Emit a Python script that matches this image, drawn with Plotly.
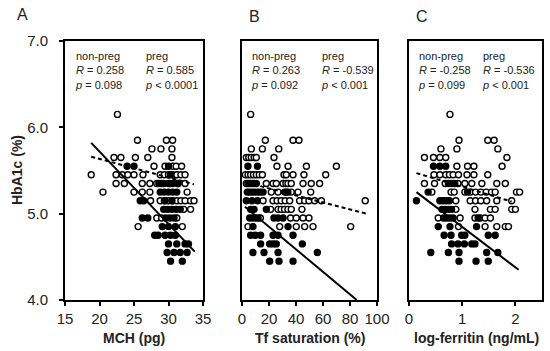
import plotly.graph_objects as go

# ---------------- data ----------------
# Panel A: MCH (pg) vs HbA1c (%)  -- rows keyed by HbA1c value
a_open_rows = {
    6.15: [22.6],
    5.85: [25.5, 29.7, 30.6],
    5.75: [27.6, 28.9, 30.5],
    5.65: [22.1, 23.1, 25.2, 27.0, 30.5],
    5.55: [27.9, 29.5, 30.6, 31.1, 31.9],
    5.45: [18.8, 22.4, 23.3, 24.1, 25.0, 26.3, 28.8, 29.4, 30.0, 30.6, 31.2, 31.8, 32.4],
    5.35: [22.4, 23.6, 26.2, 27.3, 28.3, 29.0, 30.2, 31.4, 32.4],
    5.25: [20.5, 25.0, 26.2, 27.3, 32.7],
    5.15: [27.4, 28.8, 29.4, 30.0, 30.6, 31.2, 31.8, 32.4, 33.2, 33.7],
    5.05: [32.2, 33.2],
    4.95: [28.3, 29.0, 31.2],
    4.85: [25.6, 32.0],
}
a_filled_rows = {
    5.55: [24.0, 25.0, 30.0],
    5.45: [30.3],
    5.35: [28.6, 29.3, 30.0, 30.6, 31.3],
    5.25: [28.8, 29.4, 30.0, 30.6, 31.2],
    5.15: [25.9, 26.4, 29.5, 30.5],
    5.05: [29.3, 29.9, 30.5, 31.1, 31.7],
    4.95: [26.2, 27.0, 29.6, 30.2, 30.8],
    4.85: [29.1, 30.0, 31.0],
    4.75: [28.0, 28.5, 29.5, 30.3, 31.0],
    4.65: [30.0, 31.2, 32.4, 32.9],
    4.55: [29.8, 30.8, 31.7, 32.7],
    4.45: [30.3, 32.0],
}
a_solid_x = [18.8, 33.8]
a_solid_y = [5.82, 4.56]
a_dash_x = [18.8, 33.7]
a_dash_y = [5.66, 5.34]

# Panel B: Tf saturation (%) vs HbA1c (%)
b_open_rows = {
    6.15: [6.4],
    5.85: [17.3, 37.8, 42.2],
    5.75: [6.9, 15.1, 27.2],
    5.65: [3.2, 5.0, 6.9, 9.0, 10.6, 23.7],
    5.55: [25.9, 34.1, 47.7, 69.9],
    5.45: [2.5, 4.5, 6.4, 8.5, 10.6, 12.8, 15.1, 31.1, 32.8, 37.8, 45.9, 62.0],
    5.35: [3.2, 18.0, 23.0, 25.4, 30.4, 32.5, 34.1, 36.5, 45.2, 51.3, 57.5],
    5.25: [21.7, 26.7, 32.8, 36.5, 41.5, 50.9],
    5.15: [15.6, 23.0, 26.0, 29.0, 32.0, 35.3, 42.7, 46.4, 49.6, 53.8, 58.8, 91.3],
    5.05: [21.2, 26.7, 29.0, 31.5, 34.0, 36.5, 44.4],
    4.95: [13.6, 36.0, 40.2, 45.2, 49.6],
    4.85: [4.4, 27.9, 40.2, 46.4, 52.6, 80.5],
}
b_filled_rows = {
    5.55: [4.4, 11.4],
    5.35: [4.4, 6.0, 7.5, 9.0, 10.6],
    5.25: [3.9, 5.5, 7.5, 9.5, 11.5, 13.5, 15.6, 31.6, 34.0],
    5.15: [3.2, 7.4, 11.4],
    5.05: [6.4, 8.9, 18.0],
    4.95: [5.7, 7.8, 9.9, 11.9, 23.7, 26.7, 30.4],
    4.85: [8.1, 34.1],
    4.75: [6.4, 9.9, 13.8, 23.0, 26.7, 37.8],
    4.65: [13.8, 20.5, 23.0, 25.4, 44.7],
    4.55: [8.1, 16.3, 26.7, 55.8],
    4.45: [20.5, 27.4, 37.8],
}
b_solid_x = [2.2, 85.0]
b_solid_y = [5.08, 4.0]
b_dash_x = [3.5, 92.0]
b_dash_y = [5.36, 5.00]

# Panel C: log-ferritin (ng/mL) vs HbA1c (%)
c_open_rows = {
    6.15: [0.77],
    5.85: [0.94, 1.48, 1.60],
    5.75: [0.60, 0.90, 1.67],
    5.65: [0.29, 0.46, 0.58, 0.69, 1.84],
    5.55: [0.90, 1.10, 1.22, 1.75],
    5.45: [0.47, 0.58, 0.69, 0.76, 0.83, 0.93, 1.09, 1.22, 1.48],
    5.35: [0.29, 0.48, 0.68, 0.92, 1.05, 1.18, 1.37, 1.65, 1.81],
    5.25: [0.43, 0.79, 0.85, 1.05, 1.15, 1.25, 1.35, 1.45, 1.55, 1.62, 2.02, 2.08],
    5.15: [0.70, 0.88, 1.15, 1.25, 1.35, 1.46, 1.65, 1.93],
    5.05: [0.88, 1.24, 1.53, 1.62, 1.93, 2.00],
    4.95: [0.55, 0.96, 1.24, 1.34, 1.43, 1.53],
    4.85: [0.93, 1.43, 1.65, 1.81, 1.87],
}
c_filled_rows = {
    5.55: [0.46, 0.58, 0.69],
    5.35: [0.74, 0.80, 0.86],
    5.25: [0.36, 1.10],
    5.15: [0.14, 0.58, 0.64, 0.76],
    5.05: [0.62, 0.68, 0.74, 0.80],
    4.95: [0.65, 0.71, 0.77, 0.83, 1.30],
    4.85: [0.55, 0.77, 1.27],
    4.75: [0.66, 0.79, 0.99, 1.05, 1.49, 1.62],
    4.65: [0.80, 0.92, 1.04, 1.18, 1.24],
    4.55: [0.41, 0.74, 0.94, 1.46, 1.67],
    4.45: [0.94, 1.26, 1.49],
}
c_solid_x = [0.14, 2.06]
c_solid_y = [5.25, 4.35]
c_dash_x = [0.14, 1.93]
c_dash_y = [5.47, 5.14]

panel_letters = ["A", "B", "C"]
x_titles = ["MCH (pg)", "Tf saturation (%)", "log-ferritin (ng/mL)"]
y_title = "HbA1c (%)"
stats_nonpreg = [("0.258", "= 0.098"), ("0.263", "= 0.092"), ("-0.258", "= 0.099")]
stats_preg = [("0.585", "< 0.0001"), ("-0.539", "< 0.001"), ("-0.536", "< 0.001")]
y_ticks = [4.0, 5.0, 6.0, 7.0]

# ---------------- figure ----------------
W, H = 550, 351
FONT = "Arial, 'Liberation Sans', sans-serif"


def flatten(rows):
    xs, ys = [], []
    for yv, xl in rows.items():
        for xv in xl:
            xs.append(xv)
            ys.append(yv)
    return xs, ys


panels = [
    (a_open_rows, a_filled_rows, a_solid_x, a_solid_y, a_dash_x, a_dash_y),
    (b_open_rows, b_filled_rows, b_solid_x, b_solid_y, b_dash_x, b_dash_y),
    (c_open_rows, c_filled_rows, c_solid_x, c_solid_y, c_dash_x, c_dash_y),
]

fig = go.Figure()
for i, (orow, frow, sx, sy, dx, dy) in enumerate(panels):
    xa = "x" if i == 0 else f"x{i+1}"
    ya = "y" if i == 0 else f"y{i+1}"
    ox, oy = flatten(orow)
    fx, fy = flatten(frow)
    fig.add_trace(go.Scatter(x=ox, y=oy, mode="markers", xaxis=xa, yaxis=ya,
                             marker=dict(symbol="circle", size=6, color="white",
                                         line=dict(color="black", width=1.4))))
    fig.add_trace(go.Scatter(x=fx, y=fy, mode="markers", xaxis=xa, yaxis=ya,
                             marker=dict(symbol="circle", size=6, color="black",
                                         line=dict(color="black", width=1.4))))
    fig.add_trace(go.Scatter(x=sx, y=sy, mode="lines", xaxis=xa, yaxis=ya,
                             line=dict(color="black", width=2)))
    fig.add_trace(go.Scatter(x=dx, y=dy, mode="lines", xaxis=xa, yaxis=ya,
                             line=dict(color="black", width=2, dash="4px,3px")))

x_dom_px = [(65, 203), (242, 377), (409, 542)]
y_dom = [(H - 300) / H, (H - 41) / H]
x_ranges = [[15, 35], [0, 100], [0, 2.5]]
x_dticks = [5, 20, 1]

axis_common = dict(showline=True, linewidth=2, linecolor="black", mirror=True,
                   showgrid=False, zeroline=False, automargin=False,
                   tickfont=dict(family=FONT, size=15, color="#222"))
layout = dict(width=W, height=H, autosize=False,
              margin=dict(l=0, r=0, t=0, b=0, pad=0, autoexpand=False),
              paper_bgcolor="white", plot_bgcolor="white", showlegend=False)
for i in range(3):
    k = "" if i == 0 else str(i + 1)
    layout[f"xaxis{k}"] = dict(axis_common, domain=[x_dom_px[i][0] / W, x_dom_px[i][1] / W],
                               range=x_ranges[i], dtick=x_dticks[i], tick0=0,
                               ticks="outside", ticklen=4, tickwidth=1.5, tickcolor="black",
                               anchor="y" + k)
    ydict = dict(axis_common, domain=list(y_dom), range=[4, 7], anchor="x" + k)
    if i == 0:
        ydict.update(tickvals=y_ticks, ticktext=[f"{v:.1f}" for v in y_ticks],
                     ticks="outside", ticklen=4, tickwidth=1.5, tickcolor="black",
                     ticklabelstandoff=8)
    else:
        ydict.update(showticklabels=False, ticks="")
    layout[f"yaxis{k}"] = ydict

ann = []
letter_pos = [(22.7, 15), (254, 16), (421.7, 16)]
for i, L in enumerate(panel_letters):
    ann.append(dict(text=L, x=letter_pos[i][0] / W, y=1 - letter_pos[i][1] / H,
                    xref="paper", yref="paper", showarrow=False,
                    xanchor="center", yanchor="middle",
                    font=dict(family=FONT, size=16, color="#222")))

np_x = [73.3, 249.3, 416]
pg_x = [143.3, 319.3, 480]
for i in range(3):
    for xp, (rv, pv), head in ((np_x[i], stats_nonpreg[i], "non-preg"),
                               (pg_x[i], stats_preg[i], "preg")):
        t = f"{head}<br><i>R</i> = {rv}<br><i>p</i> {pv}"
        ann.append(dict(text=t, x=xp / W, y=1 - 70 / H, xref="paper", yref="paper",
                        showarrow=False, xanchor="left", yanchor="middle", align="left",
                        font=dict(family=FONT, size=11, color="#222")))

xt_centers = [134, 310, 476]
for i, t in enumerate(x_titles):
    ann.append(dict(text=f"<b>{t}</b>", x=xt_centers[i] / W, y=1 - 338 / H,
                    xref="paper", yref="paper", showarrow=False,
                    xanchor="center", yanchor="middle",
                    font=dict(family=FONT, size=14, color="#222")))
ann.append(dict(text=f"<b>{y_title}</b>", x=17 / W, y=1 - 170 / H, xref="paper",
                yref="paper", showarrow=False, textangle=-90,
                xanchor="center", yanchor="middle",
                font=dict(family=FONT, size=14, color="#222")))
layout["annotations"] = ann

fig.update_layout(**layout)
fig.write_html("out.html", config={"displayModeBar": False},
               post_script="document.body.style.margin='0';document.body.style.padding='0';")
